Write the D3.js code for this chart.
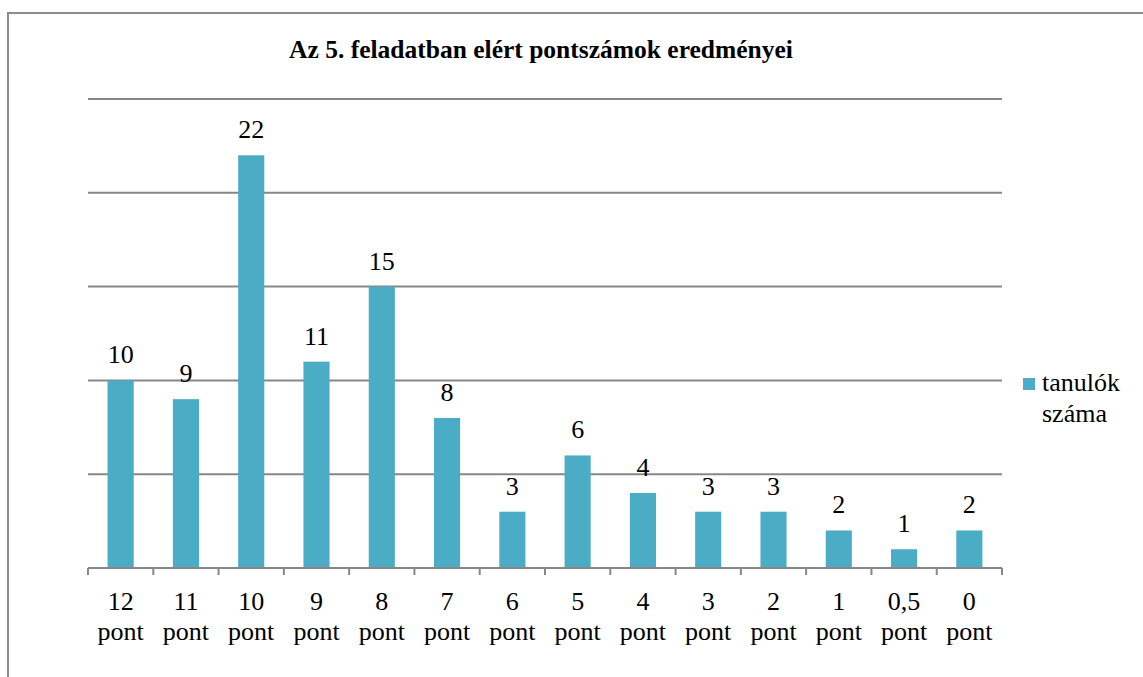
<!DOCTYPE html>
<html>
<head>
<meta charset="utf-8">
<script src="https://cdn.jsdelivr.net/npm/d3@7"></script>
</head>
<body style="margin:0">
<div id="chart"></div>
<script>
const categories = ["12", "11", "10", "9", "8", "7", "6", "5", "4", "3", "2", "1", "0,5", "0"];
const values = [10, 9, 22, 11, 15, 8, 3, 6, 4, 3, 3, 2, 1, 2];
const gridTicks = [0, 5, 10, 15, 20, 25];
const seriesName = ["tanulók", "száma"];
const title = "Az 5. feladatban elért pontszámok eredményei";

const width = 1143, height = 677;
const plot = {left: 88, right: 1002, top: 99, bottom: 568};
const serif = "Liberation Serif";

const svg = d3.select("#chart").append("svg")
    .attr("width", width)
    .attr("height", height)
    .style("font-family", serif);

// chart frame
svg.append("rect")
    .attr("x", 8).attr("y", 13)
    .attr("width", width + 20).attr("height", height + 20)
    .attr("fill", "none")
    .attr("stroke", "#8c8c8c")
    .attr("stroke-width", 2);

const x = d3.scaleBand()
    .domain(categories)
    .range([plot.left, plot.right])
    .paddingInner(0.6)
    .paddingOuter(0.3);

const y = d3.scaleLinear()
    .domain([0, 25])
    .range([plot.bottom, plot.top]);

/* gridlines */
svg.append("g")
    .selectAll("line")
    .data(gridTicks.slice(1))
    .enter()
    .append("line")
        .attr("x1", plot.left)
        .attr("x2", plot.right)
        .attr("y1", d => y(d))
        .attr("y2", d => y(d))
        .attr("stroke", "#878787")
        .attr("stroke-width", 2);

/* bars */
svg.append("g")
    .selectAll("rect")
    .data(values)
    .enter()
    .append("rect")
        .attr("x", (d, i) => x(categories[i]))
        .attr("y", d => y(d))
        .attr("width", x.bandwidth())
        .attr("height", d => y(0) - y(d))
        .attr("fill", "#4bacc6");

/* value labels */
svg.append("g")
    .selectAll("text")
    .data(values)
    .enter()
    .append("text")
        .attr("x", (d, i) => x(categories[i]) + x.bandwidth() / 2)
        .attr("y", d => y(d) - 17)
        .attr("text-anchor", "middle")
        .style("font-family", serif)
        .attr("font-size", 26)
        .text(d => d);

/* x axis: baseline with ticks at category boundaries */
const step = (plot.right - plot.left) / categories.length;
const axis = svg.append("g");
axis.append("line")
    .attr("x1", plot.left).attr("x2", plot.right)
    .attr("y1", y(0)).attr("y2", y(0))
    .attr("stroke", "#878787").attr("stroke-width", 2);
axis.selectAll(".tick")
    .data(d3.range(categories.length + 1))
    .enter()
    .append("line")
        .attr("x1", i => plot.left + i * step)
        .attr("x2", i => plot.left + i * step)
        .attr("y1", y(0))
        .attr("y2", y(0) + 7)
        .attr("stroke", "#878787").attr("stroke-width", 2);

const labels = axis.selectAll(".lbl")
    .data(categories)
    .enter()
    .append("text")
        .attr("text-anchor", "middle")
        .style("font-family", serif)
        .attr("font-size", 26);
labels.append("tspan")
    .attr("x", d => x(d) + x.bandwidth() / 2)
    .attr("y", 610)
    .text(d => d);
labels.append("tspan")
    .attr("x", d => x(d) + x.bandwidth() / 2)
    .attr("y", 640)
    .text("pont");

/* title */
svg.append("text")
    .attr("x", 541)
    .attr("y", 58)
    .attr("text-anchor", "middle")
    .style("font-family", serif)
    .attr("font-size", 25.5)
    .attr("font-weight", "bold")
    .text(title);

/* legend */
const legend = svg.append("g");
legend.append("rect")
    .attr("x", 1023).attr("y", 378)
    .attr("width", 12).attr("height", 12)
    .attr("fill", "#4bacc6");
legend.selectAll("text")
    .data(seriesName)
    .enter()
    .append("text")
        .attr("x", 1042)
        .attr("y", (d, i) => 391 + i * 31)
        .style("font-family", serif)
        .attr("font-size", 26)
        .text(d => d);
</script>
</body>
</html>
